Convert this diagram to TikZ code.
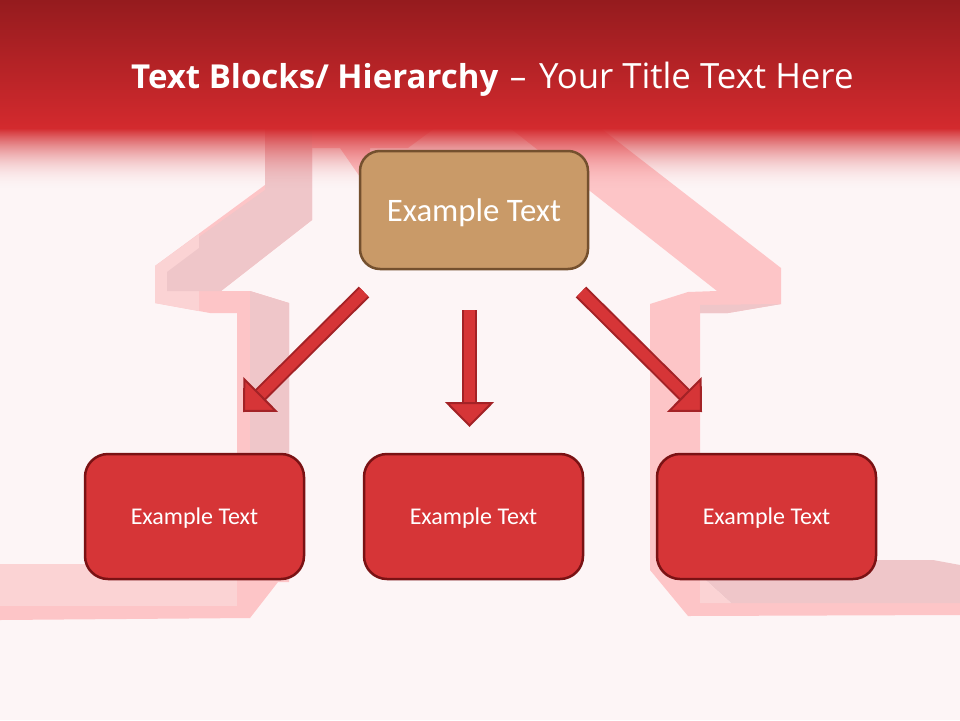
\documentclass[tikz,border=0pt]{standalone}
\usepackage{fontspec}
\setmainfont{Carlito}
\newfontfamily\titlefont{Open Sans}
\usetikzlibrary{arrows.meta}
\definecolor{pagebg}{HTML}{FDF5F6}
\definecolor{headtop}{HTML}{951B1E}
\definecolor{headred}{HTML}{D32A2E}
\definecolor{housepink}{HTML}{FDC5C7}
\definecolor{houselight}{HTML}{FBD3D4}
\definecolor{housegrey}{HTML}{EFC6C9}
\definecolor{tanfill}{HTML}{C99A68}
\definecolor{tanline}{HTML}{74502E}
\definecolor{boxred}{HTML}{D63537}
\definecolor{boxline}{HTML}{7A1214}
\definecolor{arrowline}{HTML}{A32226}
\tikzstyle{rootbox}=[rounded corners=20pt,draw=tanline,fill=tanfill,line width=2.5pt,minimum width=228pt,minimum height=118pt,text=white,text depth=0pt,font=\fontsize{32.8}{38}\selectfont]
\tikzstyle{leafbox}=[rounded corners=23pt,draw=boxline,fill=boxred,line width=2.5pt,minimum width=219pt,minimum height=125pt,text=white,text depth=0pt,font=\fontsize{24}{28}\selectfont]
\tikzstyle{blockarrow}=[draw=arrowline,line width=2pt,double=boxred,double distance=11pt,-{Triangle[length=25pt,width=49pt,fill=boxred,line width=2pt]}]

\begin{document}
\begin{tikzpicture}[x=1pt,y=-1pt]
    \useasboundingbox (0,0) rectangle (960,720);
    \fill[pagebg] (0,0) rectangle (960,720);

    % First we draw the house, left side
    \fill[housepink] (265,120) -- (312,120) -- (312,220) -- (221,291) -- (250,291) -- (289,303) -- (289,582) -- (278,582) -- (250,618) -- (0,620) -- (0,564) -- (237,564) -- (237,313) -- (210,313) -- (155,303) -- (155,266) -- (265,185) -- cycle;
    \fill[houselight] (155,266) -- (199,234) -- (199,311) -- (155,303) -- cycle;
    \fill[housegrey] (312,130) -- (312,220) -- (221,291) -- (167,291) -- (167,272) -- (199,248) -- (199,237) -- (265,190) -- (265,130) -- cycle;
    \fill[housegrey] (250,291) -- (289,303) -- (289,580) -- (250,580) -- cycle;
    \fill[houselight] (0,564) -- (237,564) -- (237,606) -- (0,606) -- cycle;

    % Then the roof and the right side
    \fill[housepink] (312,120) -- (590,120) -- (781,268) -- (781,304) -- (728,313) -- (700,313) -- (700,603) -- (960,603) -- (960,615) -- (688,616) -- (650,570) -- (650,304) -- (688,292) -- (717,291) -- (510,128) -- (435,128) -- (408,148) -- (312,148) -- cycle;
    \fill[housepink] (340,148) -- (370,148) -- (370,177) -- (360,177) -- cycle;
    \fill[housegrey] (700,560) -- (933,560) -- (960,565) -- (960,603) -- (731,603) -- (700,575) -- cycle;
    \fill[houselight] (700,575) -- (731,603) -- (700,603) -- cycle;
    \fill[housegrey] (700,305) -- (781,304) -- (728,313) -- (700,313) -- cycle;

    % Header band with its fade
    \shade[top color=headtop,bottom color=headred] (0,0) rectangle (960,128);
    \foreach \row in {128,...,189}{
        \pgfmathsetmacro\rowop{pow((190-\row)/62,2)}
        \fill[headred,opacity=\rowop] (0,\row) rectangle (960,\row+1);
    }
    \node[anchor=base west,text=white,inner sep=0pt,font=\titlefont\fontsize{33}{40}\selectfont] (title) at (131,88) {\textbf{Text Blocks/ Hierarchy} \hspace{3pt}\textendash{}\hspace{4pt} \fontsize{34.8}{40}\selectfont Your Title Text Here};

    % Draw the boxes
    \node[rootbox] (root) at (474,210) {Example Text};
    \foreach \pos/\name in {{(194.5,516.5)/leafA}, {(473.5,516.5)/leafB}, {(766.5,516.5)/leafC}}
        \node[leafbox] (\name) at \pos {Example Text};

    % Connect the boxes with arrows
    \coordinate (tailA) at (364,292);
    \coordinate (tailB) at (469.5,310);
    \coordinate (tailC) at (581,292);
    \coordinate (headA) at (243,412);
    \coordinate (headB) at (469.5,427);
    \coordinate (headC) at (702,412);
    \draw[blockarrow] (tailA) -- (headA);
    \draw[blockarrow] (tailB) -- (headB);
    \draw[blockarrow] (tailC) -- (headC);
\end{tikzpicture}
\end{document}
